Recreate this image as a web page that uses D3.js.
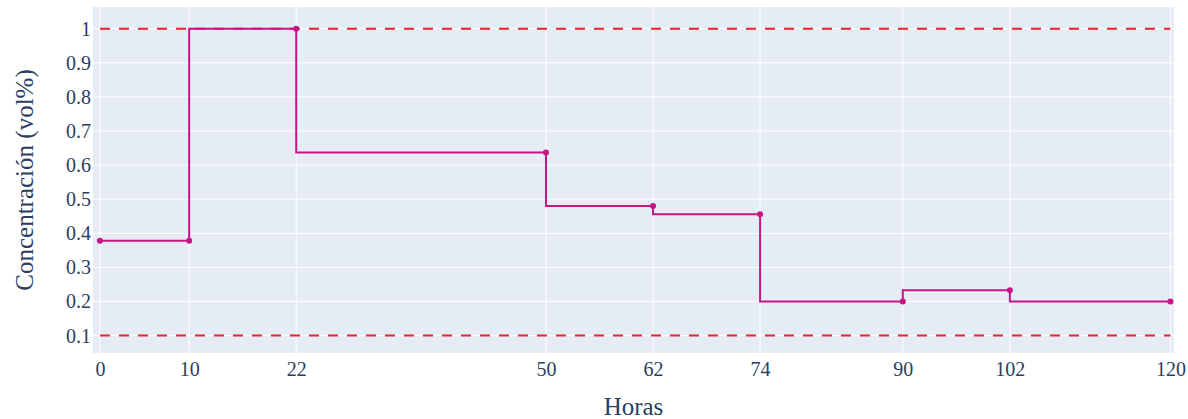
<!DOCTYPE html>
<html>
<head>
<meta charset="utf-8">
<script src="https://cdn.jsdelivr.net/npm/d3@7"></script>
<style>
  html, body { margin: 0; padding: 0; background: #fff; }
  svg text { font-family: "Liberation Serif", "Times New Roman", serif; fill: #2a3f5f; }
</style>
</head>
<body>
<svg id="chart" width="1188" height="419"></svg>
<script>
// Sampling times (hours) and measured concentration (vol%)
const horas = [0, 10, 22, 50, 62, 74, 90, 102, 120];
const concentracion = [0.378, 0.378, 1.0, 0.637, 0.48, 0.456, 0.2, 0.233, 0.2];
// Upper and lower reference limits
const limites = [1.0, 0.1];
// Axis tick labels
const xTicks = [0, 10, 22, 50, 62, 74, 90, 102, 120];
const yTicks = [0.1, 0.2, 0.3, 0.4, 0.5, 0.6, 0.7, 0.8, 0.9, 1];

const svg = d3.select("#chart");
const plot = { left: 93, right: 1174, top: 7, bottom: 353 };

const x = d3.scaleLinear().domain([-0.78, 120.4]).range([plot.left, plot.right]);
const y = d3.scaleLinear().domain([0.049, 1.0636]).range([plot.bottom, plot.top]);

// Plot background
svg.append("rect")
  .attr("x", plot.left).attr("y", plot.top)
  .attr("width", plot.right - plot.left).attr("height", plot.bottom - plot.top)
  .attr("fill", "#E5ECF6");

// Grid lines
const grid = svg.append("g");
grid.selectAll(".gx").data(xTicks).join("line")
  .attr("x1", d => x(d)).attr("x2", d => x(d))
  .attr("y1", plot.top).attr("y2", plot.bottom)
  .attr("stroke", "#fff").attr("stroke-width", 1);
grid.selectAll(".gy").data(yTicks).join("line")
  .attr("x1", plot.left).attr("x2", plot.right)
  .attr("y1", d => y(d)).attr("y2", d => y(d))
  .attr("stroke", "#fff").attr("stroke-width", 1);

// Axes
const xAxis = d3.axisBottom(x).tickValues(xTicks).tickSize(0).tickPadding(9).tickFormat(d3.format("d"));
const gx = svg.append("g").attr("transform", `translate(0,${plot.bottom})`).call(xAxis);
gx.select(".domain").remove();
gx.selectAll("text").attr("font-size", 20).attr("fill", "#2a3f5f").attr("dy", "0.71em");

const yAxis = d3.axisLeft(y).tickValues(yTicks).tickSize(0).tickPadding(2).tickFormat(d => d3.format("~g")(d));
const gy = svg.append("g").attr("transform", `translate(${plot.left},0)`).call(yAxis);
gy.select(".domain").remove();
gy.selectAll("text").attr("font-size", 20).attr("fill", "#2a3f5f");

// Reference limit lines
svg.append("g").selectAll("line").data(limites).join("line")
  .attr("x1", x(0)).attr("x2", x(120))
  .attr("y1", d => y(d)).attr("y2", d => y(d))
  .attr("stroke", "#E8232A").attr("stroke-width", 2)
  .attr("stroke-dasharray", "10,9");

// Step line of concentration
const pts = horas.map((h, i) => [h, concentracion[i]]);
const line = d3.line().x(d => x(d[0])).y(d => y(d[1])).curve(d3.curveStepBefore);
svg.append("path").datum(pts)
  .attr("d", line)
  .attr("fill", "none")
  .attr("stroke", "#C71585").attr("stroke-width", 2);

svg.append("g").selectAll("circle").data(pts).join("circle")
  .attr("cx", d => x(d[0])).attr("cy", d => y(d[1]))
  .attr("r", 3).attr("fill", "#C71585");

// Axis titles
svg.append("text")
  .attr("x", (plot.left + plot.right) / 2).attr("y", 415)
  .attr("text-anchor", "middle").attr("font-size", 25)
  .text("Horas");
svg.append("text")
  .attr("transform", `translate(33,${(plot.top + plot.bottom) / 2}) rotate(-90)`)
  .attr("text-anchor", "middle").attr("font-size", 25)
  .text("Concentración (vol%)");
</script>
</body>
</html>
